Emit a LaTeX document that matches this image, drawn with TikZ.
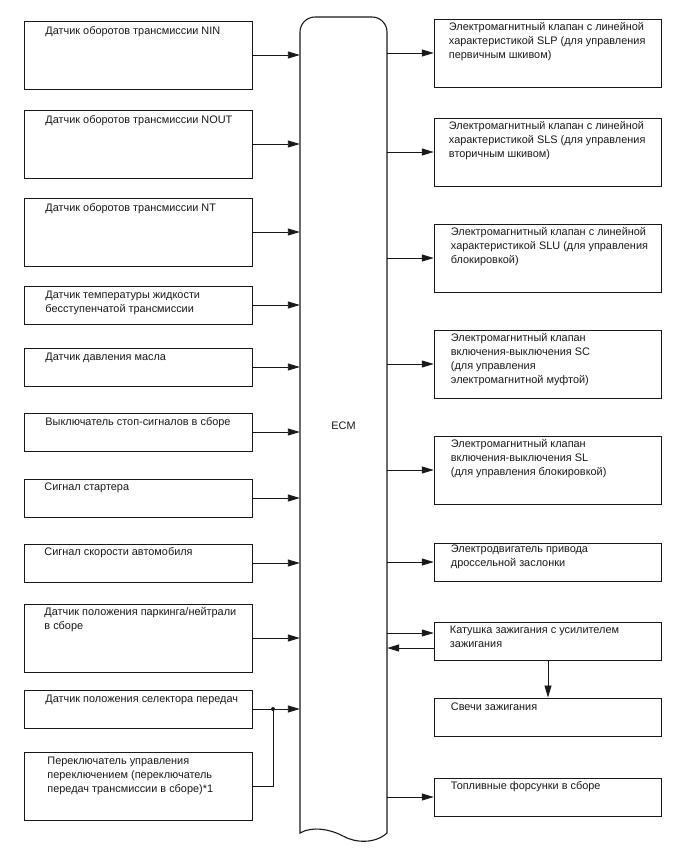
\documentclass[tikz,border=0pt]{standalone}
\usepackage{fontspec}
\setmainfont{Liberation Sans}
\usetikzlibrary{arrows.meta,positioning}
\tikzset{
  blk/.style={draw=black!90, line width=1pt, minimum width=227.5pt, inner sep=0pt},
  txt/.style={font=\fontsize{10.9}{14}\selectfont, align=left, inner sep=0pt, text=black!90},
  con/.style={draw=black!90, line width=0.9pt, -{Triangle[length=12pt,width=7pt]}},
}
\begin{document}
\begin{tikzpicture}[x=1pt, y=-1pt]
    \useasboundingbox (0,0) rectangle (688,852);

    % ECM block (rounded top, wavy bottom)
    \node[minimum width=87pt, minimum height=817pt, inner sep=0pt, txt] (ecm) at (343.5,425.5) {ECM};
    \draw[line width=1.1pt, black!90] (300,833) [rounded corners=15pt] -- (300,17) -- (387,17)
        [sharp corners] -- (387,833) .. controls (375,844) and (355,843) .. (343,836)
        .. controls (330,829) and (312,826) .. (300,833) -- cycle;

    % Inputs (left column)
    \node[blk, minimum height=68pt] (nin) at (138.5,55) {};
    \node[blk, minimum height=68pt] (nout) at (138.5,144) {};
    \node[blk, minimum height=68pt] (nt) at (138.5,232) {};
    \node[blk, minimum height=38pt] (tmp) at (138.5,305) {};
    \node[blk, minimum height=38pt] (prs) at (138.5,367) {};
    \node[blk, minimum height=38pt] (stp) at (138.5,432) {};
    \node[blk, minimum height=38pt] (strt) at (138.5,498) {};
    \node[blk, minimum height=38pt] (spd) at (138.5,563) {};
    \node[blk, minimum height=68pt] (pnp) at (138.5,638) {};
    \node[blk, minimum height=38pt] (sel) at (138.5,709) {};
    \node[blk, minimum height=68pt] (shf) at (138.5,786) {};

    \node[txt, below right=6pt and 21pt of nin.north west] (ninL) {Датчик оборотов трансмиссии NIN};
    \node[txt, below right=6pt and 21pt of nout.north west] (noutL) {Датчик оборотов трансмиссии NOUT};
    \node[txt, below right=6pt and 21pt of nt.north west] (ntL) {Датчик оборотов трансмиссии NT};
    \node[txt, below right=5pt and 21pt of tmp.north west] (tmpL) {Датчик температуры жидкости\\бесступенчатой трансмиссии};
    \node[txt, below right=5pt and 21pt of prs.north west] (prsL) {Датчик давления масла};
    \node[txt, below right=5pt and 21pt of stp.north west] (stpL) {Выключатель стоп-сигналов в сборе};
    \node[txt, below right=4pt and 20pt of strt.north west] (strtL) {Сигнал стартера};
    \node[txt, below right=4pt and 20pt of spd.north west] (spdL) {Сигнал скорости автомобиля};
    \node[txt, below right=4pt and 20pt of pnp.north west] (pnpL) {Датчик положения паркинга/нейтрали\\в сборе};
    \node[txt, below right=5pt and 21pt of sel.north west] (selL) {Датчик положения селектора передач};
    \node[txt, below right=5pt and 23pt of shf.north west] (shfL) {Переключатель управления\\переключением (переключатель\\передач трансмиссии в сборе)*1};

    % Outputs (right column)
    \node[blk, minimum height=68pt] (slp) at (548,53) {};
    \node[blk, minimum height=68pt] (sls) at (548,152) {};
    \node[blk, minimum height=68pt] (slu) at (548,258) {};
    \node[blk, minimum height=68pt] (sc) at (548,364) {};
    \node[blk, minimum height=68pt] (sl) at (548,470) {};
    \node[blk, minimum height=38pt] (thr) at (548,562) {};
    \node[blk, minimum height=38pt] (coil) at (548,641) {};
    \node[blk, minimum height=38pt] (plug) at (548,717) {};
    \node[blk, minimum height=38pt] (inj) at (548,797) {};

    \node[txt, below right=4pt and 15pt of slp.north west] (slpL) {Электромагнитный клапан с линейной\\характеристикой SLP (для управления\\первичным шкивом)};
    \node[txt, below right=4pt and 15pt of sls.north west] (slsL) {Электромагнитный клапан с линейной\\характеристикой SLS (для управления\\вторичным шкивом)};
    \node[txt, below right=4pt and 17pt of slu.north west] (sluL) {Электромагнитный клапан с линейной\\характеристикой SLU (для управления\\блокировкой)};
    \node[txt, below right=4pt and 17pt of sc.north west] (scL) {Электромагнитный клапан\\включения-выключения SC\\(для управления\\электромагнитной муфтой)};
    \node[txt, below right=4pt and 17pt of sl.north west] (slL) {Электромагнитный клапан\\включения-выключения SL\\(для управления блокировкой)};
    \node[txt, below right=2pt and 17pt of thr.north west] (thrL) {Электродвигатель привода\\дроссельной заслонки};
    \node[txt, below right=4pt and 16pt of coil.north west] (coilL) {Катушка зажигания с усилителем\\зажигания};
    \node[txt, below right=5pt and 17pt of plug.north west] (plugL) {Свечи зажигания};
    \node[txt, below right=4pt and 17pt of inj.north west] (injL) {Топливные форсунки в сборе};

    % Inputs into the ECM
    \foreach \n in {nin,nout,nt,tmp,prs,stp,strt,spd,pnp,sel}
        \draw[con] (\n.east) -- (\n.east -| ecm.west);
    \coordinate (jn) at (273,709);
    \draw[draw=black!90, line width=0.9pt] (shf.east) -| (jn);
    \fill[black!90] (jn) circle (2pt);

    % ECM outputs
    \foreach \n in {slp,sls,slu,sc,sl,thr,inj}
        \draw[con] (\n.west -| ecm.east) -- (\n.west);
    \coordinate (co) at ([yshift=8pt]coil.west);
    \coordinate (ci) at ([yshift=-7pt]coil.west);
    \draw[con] (co -| ecm.east) -- (co);
    \draw[con] (ci) -- (ci -| ecm.east);
    \draw[con] (coil.south) -- (plug.north);
\end{tikzpicture}
\end{document}
